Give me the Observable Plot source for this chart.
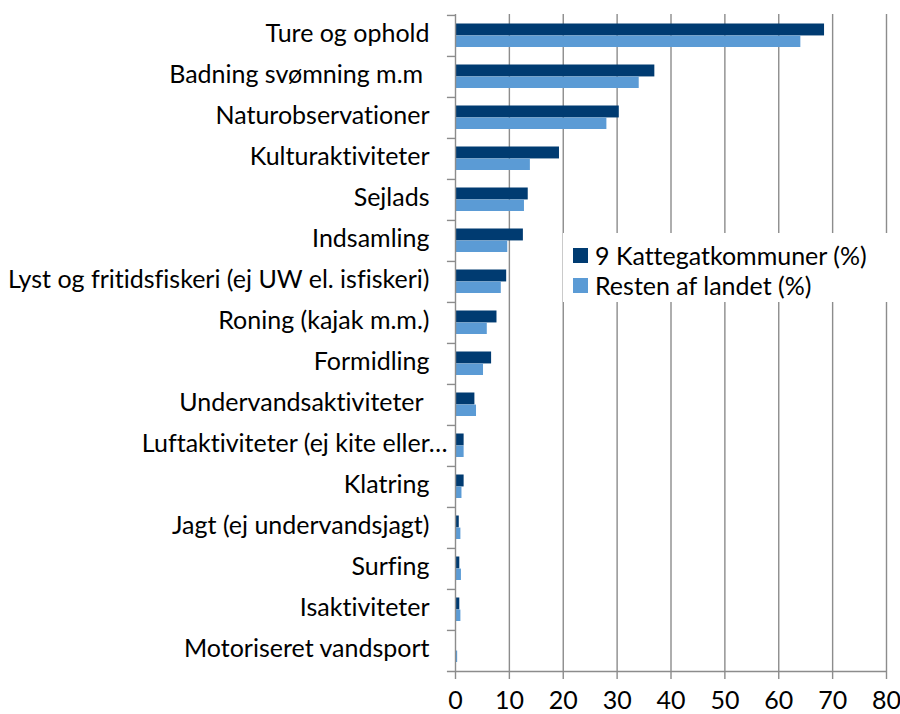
<!DOCTYPE html>
<html>
<head>
<meta charset="utf-8">
<script src="https://cdn.jsdelivr.net/npm/d3@7"></script>
<script src="https://cdn.jsdelivr.net/npm/@observablehq/plot@0.6"></script>
<style>
  html, body { margin: 0; padding: 0; background: #fff; }
  #wrap { position: relative; width: 900px; height: 714px; font-family: Lato, "Open Sans", sans-serif; font-variant-ligatures: none; }
  #wrap svg text { white-space: pre; font-variant-ligatures: none; }
  #legend { position: absolute; left: 563px; top: 233px; width: 327px; height: 69px; background: #fff; font-size: 25px; color: #000; }
  .row { position: absolute; left: 10px; height: 30px; line-height: 30px; white-space: nowrap; }
  .sw { position: absolute; left: 0; top: 7.5px; width: 15px; height: 15px; }
  .lab { position: absolute; left: 22px; top: 0; }
</style>
</head>
<body>
<div id="wrap">
  <div id="chart"></div>
  <div id="legend"></div>
</div>
<script>
const categories = [
  "Ture og ophold",
  "Badning svømning m.m ",
  "Naturobservationer",
  "Kulturaktiviteter",
  "Sejlads",
  "Indsamling",
  "Lyst og fritidsfiskeri (ej UW el. isfiskeri)",
  "Roning (kajak m.m.)",
  "Formidling",
  "Undervandsaktiviteter ",
  "Luftaktiviteter (ej kite eller…",
  "Klatring",
  "Jagt (ej undervandsjagt)",
  "Surfing",
  "Isaktiviteter",
  "Motoriseret vandsport"
];
const kattegat = [68.5, 37.0, 30.4, 19.3, 13.5, 12.6, 9.5, 7.7, 6.7, 3.6, 1.6, 1.6, 0.7, 0.8, 0.8, 0.1];
const resten   = [64.1, 34.1, 28.1, 13.9, 12.8, 9.7, 8.5, 5.9, 5.2, 3.9, 1.6, 1.2, 1.0, 1.1, 1.0, 0.4];
const seriesNames = ["9 Kattegatkommuner (%)", "Resten af landet (%)"];
const seriesColors = ["#003B71", "#5B9BD5"];
const xTicks = [0, 10, 20, 30, 40, 50, 60, 70, 80];

const rows = categories.map((c, i) => ({category: c, k: kattegat[i], r: resten[i]}));

const W = 900, H = 714, mt = 14, mb = 42, ml = 455, mr = 14;
const bw = (H - mt - mb) / categories.length;
const gray = "#8c8c8c";
const longLabel = categories[10];

const chart = Plot.plot({
  width: W, height: H,
  marginLeft: ml, marginRight: mr, marginTop: mt, marginBottom: mb,
  style: {fontFamily: "Lato, 'Open Sans', sans-serif", fontSize: "25px", color: "#000", background: "#fff", overflow: "visible"},
  x: {domain: [0, 80], label: null},
  y: {type: "band", domain: categories, padding: 0, label: null},
  marks: [
    Plot.gridX({ticks: xTicks.slice(1), stroke: gray, strokeOpacity: 1, strokeWidth: 1.4}),
    Plot.barX(rows, {y: "category", x: "k", fill: seriesColors[0], insetTop: 8.5, insetBottom: bw / 2}),
    Plot.barX(rows, {y: "category", x: "r", fill: seriesColors[1], insetTop: bw / 2, insetBottom: 9}),
    Plot.ruleX([0], {stroke: gray, strokeWidth: 1.4}),
    Plot.ruleY(categories, {y: d => d, x1: -1.5, x2: 0, dy: -bw / 2, stroke: gray, strokeWidth: 1.4}),
    Plot.ruleY([categories[categories.length - 1]], {y: d => d, x1: -1.5, x2: 80, dy: bw / 2, stroke: gray, strokeWidth: 1.4}),
    Plot.axisX({ticks: xTicks, tickSize: 7, tickPadding: 12, stroke: gray, strokeWidth: 1.4, fill: "#000", tickFormat: d => String(d)}),
    Plot.axisY({ticks: categories.filter(c => c !== longLabel), tickSize: 0, tickPadding: 26, dy: -2, fill: "#000"}),
    Plot.axisY({ticks: [longLabel], tickSize: 0, tickPadding: 8, dy: -2, fill: "#000"})
  ]
});
document.getElementById("chart").appendChild(chart);

const legend = document.getElementById("legend");
seriesNames.forEach((name, i) => {
  const row = document.createElement("div");
  row.className = "row";
  row.style.top = (7 + i * 30) + "px";
  const sw = document.createElement("div");
  sw.className = "sw";
  sw.style.background = seriesColors[i];
  const lab = document.createElement("span");
  lab.className = "lab";
  lab.textContent = name;
  row.appendChild(sw);
  row.appendChild(lab);
  legend.appendChild(row);
});
</script>
</body>
</html>
